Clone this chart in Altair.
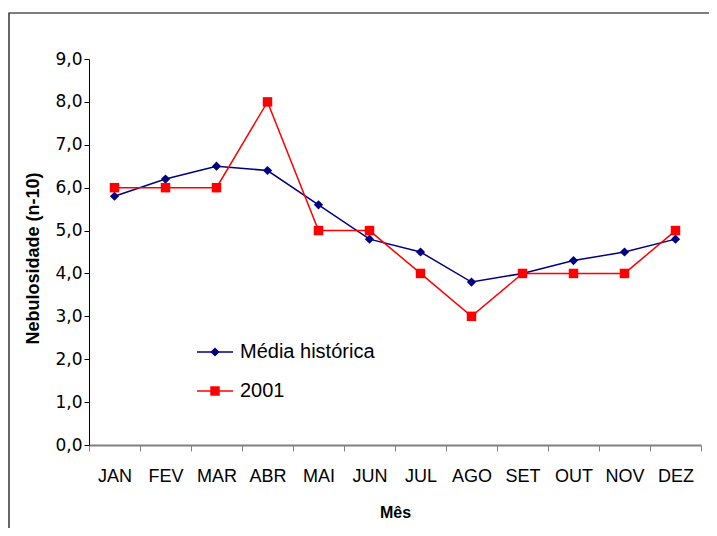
import altair as alt
import pandas as pd

months = ["JAN", "FEV", "MAR", "ABR", "MAI", "JUN", "JUL", "AGO", "SET", "OUT", "NOV", "DEZ"]
media_historica = [5.8, 6.2, 6.5, 6.4, 5.6, 4.8, 4.5, 3.8, 4.0, 4.3, 4.5, 4.8]
ano_2001 = [6.0, 6.0, 6.0, 8.0, 5.0, 5.0, 4.0, 3.0, 4.0, 4.0, 4.0, 5.0]
series_names = ["Média histórica", "2001"]
colors = ["#000080", "#FF0000"]
shapes = ["diamond", "square"]
sizes = [85, 90]
y_ticks = [0, 1, 2, 3, 4, 5, 6, 7, 8, 9]

ARIAL = "'Liberation Sans', Arial, sans-serif"

df = pd.DataFrame({
    "Mês": months * 2,
    "valor": media_historica + ano_2001,
    "serie": [series_names[0]] * len(months) + [series_names[1]] * len(months),
})

W, H = 612, 386

x_enc = alt.X(
    "Mês:N",
    sort=months,
    scale=alt.Scale(type="band", paddingInner=0, paddingOuter=0),
    bandPosition=0.5,
    axis=alt.Axis(
        title="Mês",
        tickBand="extent",
        labelAngle=0,
        labelFont=ARIAL,
        labelFontSize=18,
        labelColor="#000000",
        labelPadding=16,
        tickSize=6,
        tickColor="#808080",
        domainColor="#808080",
        domainWidth=2,
        titleFont=ARIAL,
        titleFontSize=16,
        titleFontWeight="bold",
        titleX=W / 2,
        titleY=67,
        titleBaseline="middle",
        grid=False,
    ),
)

y_enc = alt.Y(
    "valor:Q",
    scale=alt.Scale(domain=[0, 9], nice=False),
    axis=alt.Axis(
        title="Nebulosidade (n-10)",
        values=y_ticks,
        labelExpr="replace(format(datum.value, '.1f'), '.', ',')",
        labelFont="'DejaVu Sans', sans-serif",
        labelFontSize=17,
        labelColor="#000000",
        labelPadding=2,
        tickSize=5,
        tickColor="#000000",
        domainColor="#000000",
        titleFont=ARIAL,
        titleFontSize=18,
        titleFontWeight="bold",
        titleAngle=-90,
        titleX=-56,
        titleY=199,
        titleBaseline="middle",
        grid=False,
    ),
)

color_scale = alt.Scale(domain=series_names, range=colors)
shape_scale = alt.Scale(domain=series_names, range=shapes)
size_scale = alt.Scale(domain=series_names, range=sizes)

base = alt.Chart(df)

lines = base.mark_line(strokeWidth=1.5).encode(
    x=x_enc,
    y=y_enc,
    color=alt.Color("serie:N", scale=color_scale, legend=None),
    detail="serie:N",
)

points = base.mark_point(filled=True, opacity=1).encode(
    x=x_enc,
    y=y_enc,
    color=alt.Color("serie:N", scale=color_scale, legend=None),
    shape=alt.Shape("serie:N", scale=shape_scale, legend=None),
    size=alt.Size("serie:N", scale=size_scale, legend=None),
)

# outer frame of the figure (right and bottom edges fall outside the picture)
frame = alt.Chart(pd.DataFrame({"f": [0]})).mark_rect(
    fill="transparent", stroke="#000000", strokeWidth=1.2
).encode(
    x=alt.value(-80), x2=alt.value(660), y=alt.value(-46), y2=alt.value(520)
)

# manual legend inside plot
legend_layers = []
leg_y = [293, 332]
for i, name in enumerate(series_names):
    ldf = pd.DataFrame({"serie": [name]})
    lc = alt.Chart(ldf)
    legend_layers.append(
        lc.mark_rule(color=colors[i], strokeWidth=1.5).encode(
            x=alt.value(108), x2=alt.value(144), y=alt.value(leg_y[i])
        )
    )
    legend_layers.append(
        lc.mark_point(shape=shapes[i], filled=True, color=colors[i], size=sizes[i], opacity=1).encode(
            x=alt.value(126), y=alt.value(leg_y[i])
        )
    )
    legend_layers.append(
        lc.mark_text(align="left", baseline="middle", font=ARIAL, fontSize=20, color="#000000").encode(
            x=alt.value(151), y=alt.value(leg_y[i]), text="serie:N"
        )
    )

chart = alt.layer(frame, lines, points, *legend_layers).properties(
    width=W,
    height=H,
    autosize=alt.AutoSizeParams(type="none"),
    padding={"left": 81, "top": 51, "right": 8, "bottom": 83},
    background="white",
).configure_view(stroke=None)

chart.save("out.html", embed_options={"renderer": "svg", "actions": False})
